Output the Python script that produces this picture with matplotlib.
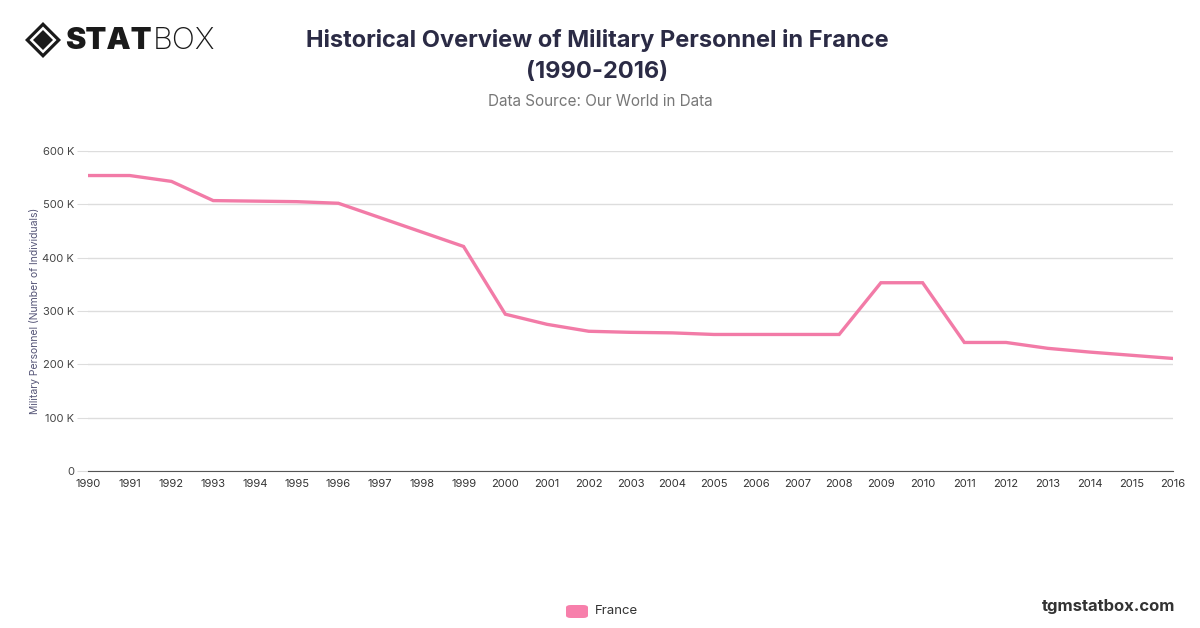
import matplotlib.pyplot as plt
from matplotlib.patches import Polygon, FancyBboxPatch
from matplotlib.ticker import FuncFormatter

years = list(range(1990, 2017))
france = [554000, 554000, 543000, 507000, 506000, 505000, 502000, 475000, 448000, 421000,
          294000, 275000, 262000, 260000, 259000, 256000, 256000, 256000, 256000,
          353000, 353000, 241000, 241000, 230000, 223000, 217000, 211000]
y_ticks = [0, 100000, 200000, 300000, 400000, 500000, 600000]

line_color = '#f27ba7'
plt.rcParams['font.family'] = ['Inter', 'DejaVu Sans']

fig = plt.figure(figsize=(12, 6.28), dpi=100)
ax = fig.add_axes([88 / 1200, 1 - 471 / 628, (1173 - 88) / 1200, (471 - 151) / 628])

ax.plot(years, france, color=line_color, linewidth=2.4, solid_joinstyle='miter')

ax.set_xlim(1990, 2016)
ax.set_ylim(0, 600000)
ax.set_xticks(years)
ax.set_yticks(y_ticks)
ax.yaxis.set_major_formatter(FuncFormatter(lambda v, p: '0' if v == 0 else f'{int(v / 1000)} K'))
ax.grid(axis='y', color='#dddddd', linewidth=1)
ax.set_axisbelow(True)
for s in ['top', 'right', 'left']:
    ax.spines[s].set_visible(False)
ax.spines['bottom'].set_color('#555555')
ax.tick_params(axis='y', length=8, color='#dddddd', labelsize=8, labelcolor='#444444', pad=2)
ax.tick_params(axis='x', length=0, labelsize=8, labelcolor='#333333', pad=6)
ax.set_ylabel('Military Personnel (Number of Individuals)', fontsize=7.5, color='#555577')
ax.yaxis.set_label_coords((40 - 88) / 1085, 0.5)

# titles
fig.text(597 / 1200, 1 - 40 / 628, 'Historical Overview of Military Personnel in France',
         ha='center', va='center', fontsize=17, fontweight='bold', color='#2b2b45')
fig.text(597 / 1200, 1 - 72 / 628, '(1990-2016)',
         ha='center', va='center', fontsize=17, fontweight='bold', color='#2b2b45')
fig.text(600 / 1200, 1 - 101 / 628, 'Data Source: Our World in Data',
         ha='center', va='center', fontsize=11, color='#777777')

# logo
cx, cy = 43 / 1200, 1 - 40 / 628
def diamond(rad, **kw):
    return Polygon([(cx - rad / 1200, cy), (cx, cy + rad / 628), (cx + rad / 1200, cy), (cx, cy - rad / 628)],
                   closed=True, transform=fig.transFigure, **kw)
fig.patches.append(diamond(18, facecolor='#1a1a1a', edgecolor='none'))
fig.patches.append(diamond(13.5, facecolor='white', edgecolor='none'))
fig.patches.append(diamond(10, facecolor='#1a1a1a', edgecolor='none'))
stat = fig.text(65 / 1200, 1 - 41 / 628, 'STAT', ha='left', va='center', fontsize=22,
                fontweight='black', color='#1a1a1a')
fig.canvas.draw()
bb = stat.get_window_extent()
fig.text(bb.x1 / 1200 + 1 / 1200, 1 - 41 / 628, 'BOX', ha='left', va='center', fontsize=22,
         fontweight='light', color='#1a1a1a')

# legend
fig.patches.append(FancyBboxPatch((566 / 1200, 1 - 618 / 628), 22 / 1200, 13 / 628,
                                  boxstyle='round,pad=0,rounding_size=0.004',
                                  transform=fig.transFigure, facecolor='#f77fab', edgecolor='none'))
fig.text(595 / 1200, 1 - 611 / 628, 'France', ha='left', va='center', fontsize=9.5, color='#333333')

fig.text(1175 / 1200, 1 - 606 / 628, 'tgmstatbox.com', ha='right', va='center', fontsize=12,
         fontweight='bold', color='#333333')

fig.savefig('out.png', dpi=100)
